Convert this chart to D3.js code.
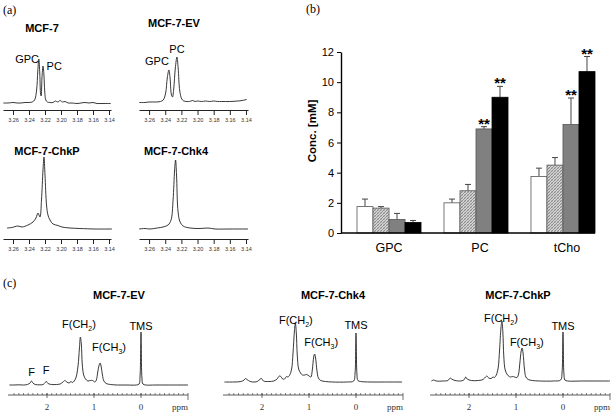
<!DOCTYPE html>
<html><head><meta charset="utf-8">
<script src="https://cdn.jsdelivr.net/npm/d3@7"></script>
<style>
html,body{margin:0;padding:0;background:#fff;}
svg{display:block;}
text{font-family:"Liberation Sans",Arial,sans-serif;}
.serif{font-family:"Liberation Serif","Times New Roman",serif;}
</style></head>
<body>
<svg id="c" width="614" height="416"></svg>
<script>
// ---------------- DATA ----------------
// (b) bar chart
const categories = ["GPC", "PC", "tCho"];
const seriesNames = ["MCF-7", "MCF-7-EV", "MCF-7-ChkP", "MCF-7-Chk4"];
const gpcValues  = [1.75, 1.65, 0.9, 0.7];
const gpcErrors  = [0.5, 0.1, 0.4, 0.13];
const pcValues   = [2.0, 2.8, 6.9, 9.0];
const pcErrors   = [0.25, 0.42, 0.15, 0.72];
const tchoValues = [3.75, 4.5, 7.2, 10.7];
const tchoErrors = [0.55, 0.5, 1.75, 1.0];
const significance = [["PC", 2], ["PC", 3], ["tCho", 2], ["tCho", 3]];
const yTicks = [0, 2, 4, 6, 8, 10, 12];

// (a) small spectra, [ppm, intensity]
const smallTicks = [3.26, 3.24, 3.22, 3.20, 3.18, 3.16, 3.14];
const specMCF7 = [[3.272,1],[3.266,1],[3.26,1.5],[3.255,1],[3.25,1],[3.245,1.5],[3.24,1.5],[3.236,2],[3.233,4],[3.2305,14],[3.229,33],[3.2277,45],[3.2265,30],[3.2255,10],[3.2248,8],[3.2238,26],[3.2225,38],[3.2214,30],[3.2203,12],[3.219,4],[3.217,2],[3.214,1.5],[3.21,1.5],[3.207,3],[3.204,2],[3.201,3.5],[3.198,2],[3.195,2.5],[3.191,1],[3.186,1],[3.18,0.5],[3.175,1],[3.17,1.5],[3.165,1],[3.16,1.5],[3.155,0.5],[3.15,0.5],[3.144,0.5],[3.138,0.5]];
const specEV = [[3.272,0.5],[3.265,0.5],[3.26,1],[3.252,1],[3.246,1.5],[3.2425,3],[3.2395,10],[3.2375,25],[3.2355,33],[3.234,25],[3.2325,9],[3.231,6],[3.2295,14],[3.2275,35],[3.2255,46],[3.224,35],[3.222,12],[3.2195,4],[3.217,2],[3.213,1.5],[3.21,1.5],[3.206,2.5],[3.203,1.5],[3.2,2],[3.195,1.5],[3.19,2],[3.185,1.5],[3.18,2],[3.175,1.5],[3.17,1.5],[3.16,1.5],[3.15,2],[3.145,2.5],[3.139,3.5]];
const specChkP = [[3.2675,2],[3.2613,2.5],[3.2538,4],[3.2488,3],[3.2413,5],[3.235,8],[3.2313,12],[3.2288,17],[3.2263,13],[3.2244,30],[3.2225,60],[3.2213,73],[3.22,55],[3.2181,25],[3.2163,15],[3.2138,10],[3.21,6],[3.2038,4.5],[3.1988,3],[3.1888,2],[3.1763,1.5],[3.1575,1],[3.1363,1]];
const specChk4 = [[3.2724,1],[3.265,1.5],[3.2588,1],[3.25,2],[3.2427,3],[3.2365,5],[3.2328,10],[3.2303,30],[3.2284,60],[3.2272,70],[3.226,55],[3.2241,18],[3.2216,8],[3.2179,4],[3.2093,2],[3.1969,1.5],[3.187,2],[3.1783,1],[3.1598,1],[3.1375,1]];

// (c) full spectra, [ppm, intensity]
const fullTicks = [2, 1, 0];
const fullEV = [[2.80,1],[2.7,1],[2.6,1.2],[2.5,1],[2.42,1.5],[2.36,3],[2.33,5],[2.30,3],[2.25,1.5],[2.15,1.2],[2.08,1.5],[2.04,3.5],[2.01,4.5],[1.98,2.5],[1.9,1.5],[1.8,1.5],[1.72,2],[1.66,4],[1.62,5.5],[1.58,4],[1.53,3],[1.49,4.5],[1.46,3.5],[1.42,5],[1.38,9],[1.34,20],[1.31,38],[1.29,49],[1.27,42],[1.25,22],[1.22,11],[1.18,7],[1.13,5],[1.08,5.5],[1.03,5.5],[0.98,4],[0.95,6],[0.92,14],[0.89,21],[0.87,23],[0.85,20],[0.82,11],[0.79,5],[0.74,2.5],[0.65,1.5],[0.5,1],[0.3,1],[0.1,1],[0.04,2],[0.02,10],[0.006,40],[0,54],[-0.006,40],[-0.02,8],[-0.04,2],[-0.1,1],[-0.3,1],[-0.6,1],[-1.0,1]];
const fullChk4 = [[2.8,1],[2.6,1],[2.45,1.5],[2.38,3],[2.35,4.5],[2.32,3.5],[2.25,1.5],[2.15,1],[2.08,2],[2.04,4],[2.01,4.5],[1.97,2],[1.85,1.5],[1.75,2],[1.68,4],[1.63,7],[1.6,6.5],[1.56,4],[1.52,4],[1.48,6.5],[1.45,6],[1.41,8],[1.37,14],[1.34,30],[1.31,52],[1.29,60],[1.27,50],[1.25,28],[1.22,14],[1.18,10],[1.14,8],[1.09,8],[1.05,8.5],[1.0,7],[0.96,6],[0.93,13],[0.9,26],[0.88,29],[0.86,25],[0.83,12],[0.8,5],[0.75,2.5],[0.65,1.5],[0.5,1],[0.2,1],[0.05,2],[0.02,10],[0.006,38],[0,50],[-0.006,38],[-0.02,9],[-0.04,2.5],[-0.1,1.5],[-0.3,1],[-0.6,1],[-0.98,1]];
const fullChkP = [[2.8,1],[2.75,2],[2.7,1],[2.55,1],[2.45,1.5],[2.42,3],[2.40,4],[2.37,3],[2.3,1.5],[2.15,1.2],[2.1,2.5],[2.07,5],[2.04,3],[1.95,1.5],[1.8,1.5],[1.7,2.5],[1.65,5],[1.62,6],[1.58,4],[1.53,3.5],[1.49,5],[1.46,4.5],[1.42,7],[1.38,14],[1.35,32],[1.32,54],[1.30,61],[1.28,50],[1.26,26],[1.23,12],[1.18,7],[1.12,5],[1.08,5.5],[1.03,5],[0.98,4.5],[0.95,7],[0.92,18],[0.89,31],[0.87,34],[0.85,29],[0.82,13],[0.79,5],[0.74,2.5],[0.65,1.5],[0.5,1],[0.2,1],[0.05,2],[0.02,10],[0.006,38],[0,50],[-0.006,38],[-0.02,8],[-0.04,2],[-0.1,1],[-0.4,1],[-0.7,1],[-1.0,1]];

// ---------------- DRAW ----------------
const svg = d3.select("#c");
const defs = svg.append("defs");
const pat = defs.append("pattern").attr("id","hatch").attr("patternUnits","userSpaceOnUse").attr("width",3).attr("height",3);
pat.append("rect").attr("width",3).attr("height",3).attr("fill","#d4d4d4");
pat.append("path").attr("d","M0,3 L3,0 M-1,1 L1,-1 M2,4 L4,2").attr("stroke","#7a7a7a").attr("stroke-width",0.8);
pat.append("path").attr("d","M0,0 L3,3").attr("stroke","#a0a0a0").attr("stroke-width",0.5);

// panel labels
svg.append("text").attr("class","serif").attr("x",3).attr("y",14).attr("font-size",12).text("(a)");
svg.append("text").attr("class","serif").attr("x",306).attr("y",13).attr("font-size",12).text("(b)");
svg.append("text").attr("class","serif").attr("x",3).attr("y",287).attr("font-size",12).text("(c)");

// ---- (a) ----
function smallPanel(opts){
  const x = d3.scaleLinear().domain([3.2725, 3.1375]).range(opts.xr);
  const y = d3.scaleLinear().domain([0,100]).range([opts.base, opts.base-100]);
  const g = svg.append("g");
  const ax = g.append("g").attr("transform",`translate(0,${opts.axisY})`)
    .call(d3.axisBottom(x).tickValues(smallTicks).tickSize(5).tickSizeOuter(0).tickPadding(3).tickFormat(d3.format(".2f")));
  ax.select(".domain").attr("stroke","#222").attr("stroke-width",1);
  ax.selectAll(".tick line").attr("stroke","#222");
  ax.selectAll("text").attr("font-size",5.5).attr("fill","#333").attr("font-family","Liberation Sans");
  g.append("path").datum(opts.data)
    .attr("d", d3.line().x(d=>x(d[0])).y(d=>y(d[1])).curve(d3.curveCatmullRom.alpha(0.5)))
    .attr("fill","none").attr("stroke","#222").attr("stroke-width",0.9);
  g.append("text").attr("x",opts.title[0]).attr("y",opts.title[1]).attr("text-anchor","middle")
    .attr("font-size",11).attr("font-weight","bold").text(opts.name);
  (opts.labels||[]).forEach(l=>{
    g.append("text").attr("x",x(l[1])).attr("y",y(l[2])).attr("text-anchor",l[3]||"middle").attr("font-size",11).text(l[0]);
  });
}
smallPanel({xr:[3,111], base:104, axisY:110, data:specMCF7, name:"MCF-7", title:[42,32],
  labels:[["GPC",3.2275,41,"end"],["PC",3.218,34,"start"]]});
smallPanel({xr:[139,248], base:103, axisY:110, data:specEV, name:"MCF-7-EV", title:[174,27],
  labels:[["GPC",3.2355,38,"end"],["PC",3.2255,50,"middle"]]});
smallPanel({xr:[3,111], base:230, axisY:239, data:specChkP, name:"MCF-7-ChkP", title:[47,155]});
smallPanel({xr:[139,248], base:230, axisY:239, data:specChk4, name:"MCF-7-Chk4", title:[176,155]});

// ---- (b) ----
const valueTable = {GPC:gpcValues, PC:pcValues, tCho:tchoValues};
const errorTable = {GPC:gpcErrors, PC:pcErrors, tCho:tchoErrors};
const barFills = ["#ffffff","url(#hatch)","#808080","#000000"];
const yB = d3.scaleLinear().domain([0,12]).range([233,52]);
const x0 = d3.scaleBand().domain(categories).range([341,611]).paddingInner(0.264).paddingOuter(0.184);
const x1 = d3.scaleBand().domain(seriesNames).range([0,x0.bandwidth()]);
const gb = svg.append("g");
categories.forEach(c=>{
  const gc = gb.append("g").attr("transform",`translate(${x0(c)},0)`);
  seriesNames.forEach((s,i)=>{
    const v = valueTable[c][i], e = errorTable[c][i];
    const xc = x1(s) + x1.bandwidth()/2;
    gc.append("line").attr("x1",xc).attr("x2",xc).attr("y1",yB(v)).attr("y2",yB(v+e)).attr("stroke","#444").attr("stroke-width",1);
    gc.append("line").attr("x1",xc-3).attr("x2",xc+3).attr("y1",yB(v+e)).attr("y2",yB(v+e)).attr("stroke","#444").attr("stroke-width",1);
    gc.append("rect").attr("x",x1(s)).attr("y",yB(v)).attr("width",x1.bandwidth()).attr("height",yB(0)-yB(v))
      .attr("fill",barFills[i]).attr("stroke",i===3?"#000":"#555").attr("stroke-width",0.8);
  });
});
significance.forEach(([c,i])=>{
  const s = seriesNames[i];
  const top = valueTable[c][i] + errorTable[c][i];
  gb.append("text").attr("x",x0(c)+x1(s)+x1.bandwidth()/2).attr("y",yB(top)+2).attr("text-anchor","middle")
    .attr("font-size",15).attr("font-weight","bold").text("**");
});
const ya = gb.append("g").attr("transform","translate(341,0)")
  .call(d3.axisLeft(yB).tickValues(yTicks).tickSize(4).tickSizeOuter(0).tickPadding(3));
ya.select(".domain").attr("stroke","#000").attr("stroke-width",1.4);
ya.selectAll(".tick line").attr("stroke","#000");
ya.selectAll("text").attr("font-size",11).attr("fill","#000").attr("font-family","Liberation Sans");
gb.append("line").attr("x1",x0.range()[0]).attr("x2",x0("tCho")+x0.bandwidth()).attr("y1",yB(0)).attr("y2",yB(0))
  .attr("stroke","#000").attr("stroke-width",1.6);
categories.forEach(c=>{
  gb.append("text").attr("x",x0(c)+x0.bandwidth()/2+ (c==="GPC"?0:4)).attr("y",252).attr("text-anchor","middle")
    .attr("font-size",12.5).text(c);
});
gb.append("text").attr("transform","translate(316,131) rotate(-90)").attr("text-anchor","middle")
  .attr("font-size",11.5).attr("font-weight","bold").text("Conc. [mM]");

// ---- (c) ----
function fullPanel(opts){
  const x = d3.scaleLinear().domain([2.83,-1.0]).range(opts.xr);
  const y = d3.scaleLinear().domain([0,100]).range([opts.base, opts.base-100]);
  const g = svg.append("g");
  const axY = 395;
  g.append("line").attr("x1",opts.xr[0]).attr("x2",opts.xr[1]).attr("y1",axY).attr("y2",axY).attr("stroke","#333").attr("stroke-width",0.8);
  const minor = d3.range(-9,28).map(d=>d/10);
  g.selectAll(".mn").data(minor).enter().append("line")
    .attr("x1",d=>x(d)).attr("x2",d=>x(d)).attr("y1",axY).attr("y2",axY-2).attr("stroke","#333").attr("stroke-width",0.6);
  g.selectAll(".mj").data(fullTicks).enter().append("line")
    .attr("x1",d=>x(d)).attr("x2",d=>x(d)).attr("y1",axY-2).attr("y2",axY+3).attr("stroke","#333").attr("stroke-width",0.7);
  g.append("line").attr("x1",opts.xr[1]).attr("x2",opts.xr[1]).attr("y1",axY-2).attr("y2",axY+5).attr("stroke","#333").attr("stroke-width",0.7);
  g.selectAll(".tl").data(fullTicks).enter().append("text").attr("class","serif")
    .attr("x",d=>x(d)).attr("y",410).attr("text-anchor","middle").attr("font-size",9).attr("fill","#333").text(d=>d);
  g.append("text").attr("class","serif").attr("x",opts.xr[1]).attr("y",410).attr("text-anchor","end").attr("font-size",9).attr("fill","#333").text("ppm");
  g.append("path").datum(opts.data)
    .attr("d", d3.line().x(d=>x(d[0])).y(d=>y(d[1])).curve(d3.curveCatmullRom.alpha(0.5)))
    .attr("fill","none").attr("stroke","#222").attr("stroke-width",0.9);
  g.append("text").attr("x",opts.title).attr("y",299).attr("text-anchor","middle")
    .attr("font-size",11).attr("font-weight","bold").text(opts.name);
  opts.labels.forEach(l=>{
    const t = g.append("text").attr("x",x(l.ppm)).attr("y",y(l.h)).attr("text-anchor","middle").attr("font-size",11);
    if(l.sub){
      t.append("tspan").text(l.t);
      t.append("tspan").attr("font-size",7).attr("dy",3).text(l.sub);
      t.append("tspan").attr("dy",-3).text(")");
    } else t.text(l.t);
  });
}
fullPanel({xr:[8,188], base:386, data:fullEV, name:"MCF-7-EV", title:119, labels:[
  {t:"F",ppm:2.33,h:10},{t:"F",ppm:2.02,h:12},
  {t:"F(CH",sub:"2",ppm:1.32,h:58},{t:"F(CH",sub:"3",ppm:0.68,h:35},{t:"TMS",ppm:0.0,h:56}]});
fullPanel({xr:[223,403], base:383, data:fullChk4, name:"MCF-7-Chk4", title:333, labels:[
  {t:"F(CH",sub:"2",ppm:1.28,h:59},{t:"F(CH",sub:"3",ppm:0.74,h:37},{t:"TMS",ppm:0.0,h:54}]});
fullPanel({xr:[430,610], base:382, data:fullChkP, name:"MCF-7-ChkP", title:518, labels:[
  {t:"F(CH",sub:"2",ppm:1.32,h:60},{t:"F(CH",sub:"3",ppm:0.77,h:36},{t:"TMS",ppm:0.0,h:52}]});
</script>
</body></html>
